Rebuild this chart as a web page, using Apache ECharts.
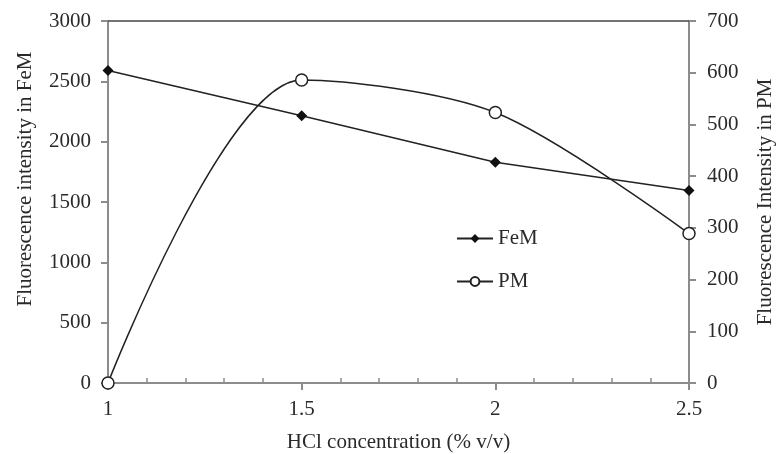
<!DOCTYPE html>
<html>
<head>
<meta charset="utf-8">
<script src="https://cdn.jsdelivr.net/npm/echarts@6/dist/echarts.min.js"></script>
<style>
	html, body { margin: 0; padding: 0; background: #fff; overflow: hidden; }
	#chart { width: 777px; height: 454px; }
</style>
</head>
<body>
<div id="chart"></div>
<script>
	var hcl = [1, 1.5, 2, 2.5];
	var femValues = [2590, 2215, 1830, 1595];
	var pmValues = [0, 586, 523, 289];
	var xTicks = [1, 1.5, 2, 2.5];

	var font = 'Liberation Serif';
	var txt = '#2a2a2a';
	var axisGrey = '#8c8c8c';

	function pairs(xs, ys) {
		return xs.map(function (x, i) { return [x, ys[i]]; });
	}
	function plain(v) {
		return String(v);
	}

	var chart = echarts.init(document.getElementById('chart'));
	var option = {
		animation: false,
		backgroundColor: '#fff',
		textStyle: { fontFamily: font, color: txt },
		grid: { left: 108, right: 88, top: 21, bottom: 71, containLabel: false, outerBoundsMode: 'none' },
		legend: {
			orient: 'vertical',
			left: 456,
			top: 228,
			padding: 0,
			itemWidth: 36,
			itemHeight: 11,
			itemGap: 22,
			textStyle: { fontFamily: font, fontSize: 21, color: txt },
			data: ['FeM', 'PM']
		},
		xAxis: [{
			type: 'value',
			position: 'bottom',
			min: xTicks[0],
			max: xTicks[xTicks.length - 1],
			interval: 0.5,
			name: 'HCl concentration (% v/v)',
			nameLocation: 'middle',
			nameGap: 49,
			nameTextStyle: { fontFamily: font, fontSize: 21, color: txt },
			axisLine: { show: true, lineStyle: { color: axisGrey, width: 2 } },
			axisTick: { show: true, length: 7, lineStyle: { color: axisGrey, width: 2 } },
			axisLabel: { fontFamily: font, fontSize: 21, color: txt, margin: 16, formatter: plain },
			splitLine: { show: false }
		}, {
			type: 'value',
			position: 'bottom',
			min: xTicks[0],
			max: xTicks[xTicks.length - 1],
			interval: 0.5,
			axisLine: { show: false },
			axisTick: { show: false, inside: true },
			minorTick: { show: true, splitNumber: 5, length: 5, lineStyle: { color: axisGrey, width: 1.5 } },
			axisLabel: { show: false },
			splitLine: { show: false }
		}, {
			type: 'value',
			position: 'top',
			min: xTicks[0],
			max: xTicks[xTicks.length - 1],
			axisLine: { show: true, lineStyle: { color: '#454545', width: 1.5 } },
			axisTick: { show: false },
			axisLabel: { show: false },
			splitLine: { show: false }
		}],
		yAxis: [{
			type: 'value',
			position: 'left',
			min: 0,
			max: 3000,
			interval: 500,
			name: 'Fluorescence intensity in FeM',
			nameLocation: 'middle',
			nameRotate: 90,
			nameGap: 72,
			nameTextStyle: { fontFamily: font, fontSize: 21, color: txt, padding: [0, 0, 0, 46] },
			axisLine: { show: true, lineStyle: { color: axisGrey, width: 2 } },
			axisTick: { show: true, length: 7, lineStyle: { color: axisGrey, width: 2 } },
			axisLabel: { fontFamily: font, fontSize: 21, color: txt, margin: 17, formatter: plain },
			splitLine: { show: false }
		}, {
			type: 'value',
			position: 'right',
			min: 0,
			max: 700,
			interval: 100,
			name: 'Fluorescence Intensity in PM',
			nameLocation: 'middle',
			nameRotate: 90,
			nameGap: 66,
			nameTextStyle: { fontFamily: font, fontSize: 21, color: txt },
			axisLine: { show: true, lineStyle: { color: axisGrey, width: 2 } },
			axisTick: { show: true, length: 7, lineStyle: { color: axisGrey, width: 2 } },
			axisLabel: { fontFamily: font, fontSize: 21, color: txt, margin: 18, formatter: plain },
			splitLine: { show: false }
		}],
		series: [{
			name: 'FeM',
			type: 'line',
			xAxisIndex: 0,
			yAxisIndex: 0,
			symbol: 'diamond',
			symbolSize: 11,
			itemStyle: { color: '#111' },
			lineStyle: { color: '#222', width: 1.5 },
			data: pairs(hcl, femValues),
			z: 3
		}, {
			name: 'PM',
			type: 'line',
			xAxisIndex: 0,
			yAxisIndex: 1,
			smooth: 0.3,
			symbol: 'circle',
			symbolSize: 12,
			showAllSymbol: true,
			itemStyle: { color: '#fff', borderColor: '#222', borderWidth: 1.5 },
			lineStyle: { color: '#222', width: 1.5 },
			data: pairs(hcl, pmValues),
			z: 4
		}]
	};
	chart.setOption(option);
</script>
</body>
</html>
